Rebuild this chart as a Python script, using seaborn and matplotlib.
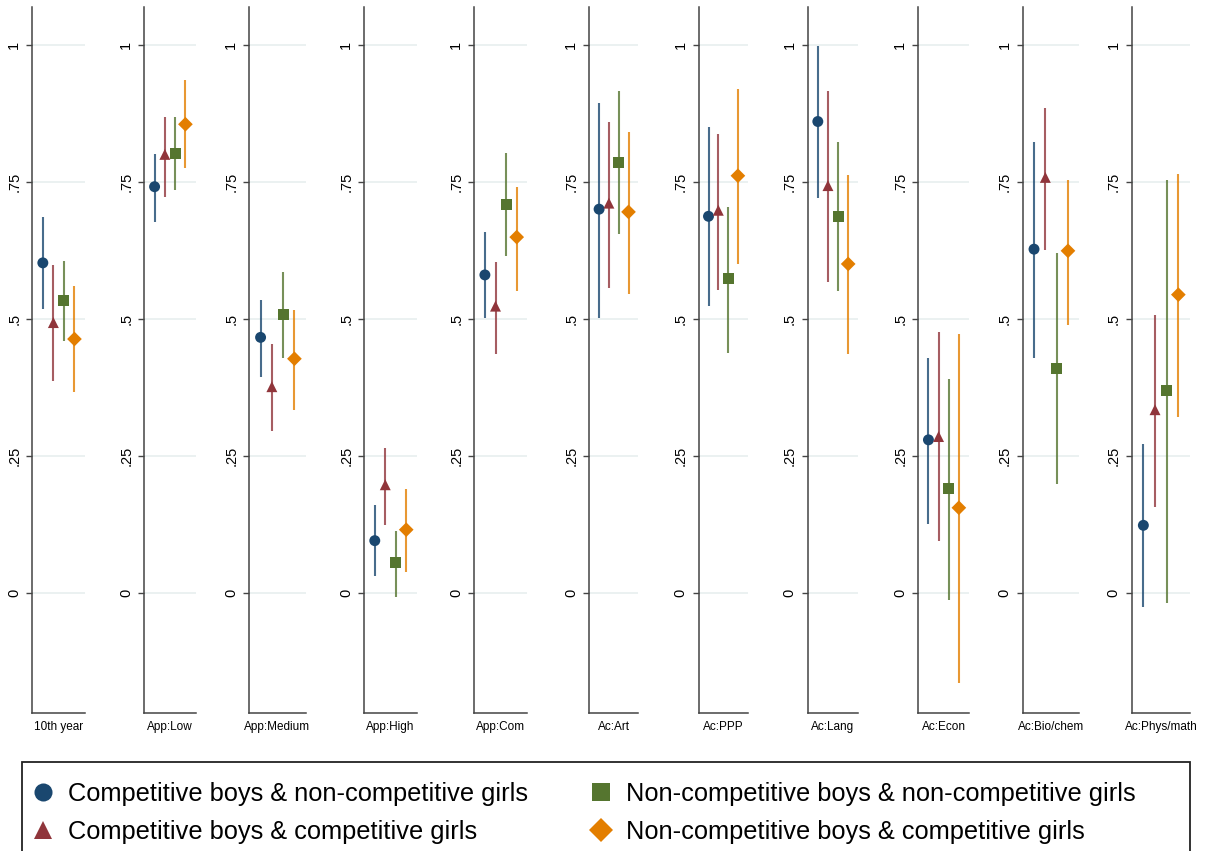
import numpy as np
import pandas as pd
import matplotlib
matplotlib.use("Agg")
import matplotlib.pyplot as plt
from matplotlib.lines import Line2D
from matplotlib.patches import Rectangle
import seaborn as sns

# ---------------- data ----------------
categories = ["10th year", "App:Low", "App:Medium", "App:High", "App:Com",
              "Ac:Art", "Ac:PPP", "Ac:Lang", "Ac:Econ", "Ac:Bio/chem", "Ac:Phys/math"]

groups = ["Competitive boys & non-competitive girls",
          "Competitive boys & competitive girls",
          "Non-competitive boys & non-competitive girls",
          "Non-competitive boys & competitive girls"]

cb_ncg_est = [0.602, 0.741, 0.466, 0.095, 0.580, 0.700, 0.687, 0.860, 0.279, 0.627, 0.123]
cb_ncg_lo  = [0.518, 0.676, 0.393, 0.030, 0.501, 0.501, 0.523, 0.720, 0.126, 0.428, -0.026]
cb_ncg_hi  = [0.686, 0.800, 0.534, 0.160, 0.658, 0.893, 0.850, 0.997, 0.428, 0.822, 0.271]

cb_cg_est = [0.493, 0.800, 0.376, 0.197, 0.523, 0.711, 0.698, 0.743, 0.285, 0.758, 0.334]
cb_cg_lo  = [0.386, 0.723, 0.296, 0.123, 0.436, 0.556, 0.553, 0.567, 0.095, 0.626, 0.156]
cb_cg_hi  = [0.598, 0.869, 0.454, 0.264, 0.603, 0.860, 0.837, 0.916, 0.475, 0.885, 0.507]

ncb_ncg_est = [0.534, 0.802, 0.507, 0.055, 0.709, 0.785, 0.573, 0.687, 0.191, 0.410, 0.369]
ncb_ncg_lo  = [0.459, 0.735, 0.428, -0.007, 0.615, 0.654, 0.437, 0.550, -0.013, 0.199, -0.019]
ncb_ncg_hi  = [0.605, 0.868, 0.585, 0.113, 0.802, 0.915, 0.704, 0.823, 0.390, 0.620, 0.754]

ncb_cg_est = [0.463, 0.855, 0.427, 0.115, 0.649, 0.695, 0.761, 0.600, 0.155, 0.624, 0.544]
ncb_cg_lo  = [0.367, 0.775, 0.334, 0.037, 0.551, 0.545, 0.600, 0.435, -0.165, 0.489, 0.320]
ncb_cg_hi  = [0.559, 0.936, 0.516, 0.189, 0.740, 0.840, 0.919, 0.762, 0.472, 0.754, 0.764]

y_ticks = [0, 0.25, 0.5, 0.75, 1]
y_tick_labels = ["0", ".25", ".5", ".75", "1"]

# ---------------- styles ----------------
colors = ["#1a476f", "#90353b", "#55752f", "#e37e00"]
markers = ["o", "^", "s", "D"]
msizes = [62, 62, 62, 56]

rows = []
for gi, (g, est, lo, hi) in enumerate(zip(
        groups,
        [cb_ncg_est, cb_cg_est, ncb_ncg_est, ncb_cg_est],
        [cb_ncg_lo, cb_cg_lo, ncb_ncg_lo, ncb_cg_lo],
        [cb_ncg_hi, cb_cg_hi, ncb_ncg_hi, ncb_cg_hi])):
    for ci, c in enumerate(categories):
        rows.append(dict(category=c, group=g, pos=gi + 1, est=est[ci], lo=lo[ci], hi=hi[ci]))
df = pd.DataFrame(rows)

sns.set_theme(style="white")
plt.rcParams["font.family"] = ["Liberation Sans", "DejaVu Sans"]
plt.rcParams["text.color"] = "black"
plt.rcParams["axes.labelcolor"] = "black"
plt.rcParams["ytick.labelcolor"] = "black"

W, H = 1217, 851
fig = plt.figure(figsize=(W / 100, H / 100), dpi=100)

# panel layout in pixels (left, width)
panel_px = [(32.3, 52.7), (144.3, 51.4), (249.3, 56.4), (364.3, 52.4), (474.3, 53.0),
            (589.3, 49.0), (698.7, 49.0), (807.7, 50.6), (918.3, 50.7), (1022.7, 56.6),
            (1131.7, 58.3)]
top_px, bot_px = 7.3, 712.7
y_lo = -(bot_px - 592.7) / 547.9
y_hi = (592.7 - top_px) / 547.9

palette = dict(zip(groups, colors))
mk = dict(zip(groups, markers))
sz = dict(zip(groups, msizes))

for ci, cat in enumerate(categories):
    l, w = panel_px[ci]
    ax = fig.add_axes([l / W, 1 - bot_px / H, w / W, (bot_px - top_px) / H])
    d = df[df["category"] == cat]
    for y in y_ticks:
        ax.axhline(y, color="#e6eeee", lw=1.1, zorder=0)
    ax.vlines(d["pos"], d["lo"], d["hi"], colors=[palette[g] for g in d["group"]],
              linewidth=1.5, alpha=0.8, zorder=2)
    sns.scatterplot(data=d, x="pos", y="est", hue="group", style="group", size="group",
                    palette=palette, markers=mk, sizes=sz, linewidth=0,
                    legend=False, ax=ax, zorder=3)
    ax.set_xlim(0, 5)
    ax.set_ylim(y_lo, y_hi)
    ax.set_xticks([])
    ax.set_yticks(y_ticks)
    ax.set_yticklabels(y_tick_labels, rotation=90, va="center", ha="right",
                       fontsize=10.5, color="black")
    ax.tick_params(axis="y", length=4.5, width=1, color="#444444", pad=3.5, left=True)
    ax.set_xlabel(cat, fontsize=8.5, labelpad=6, color="black")
    ax.set_ylabel("")
    for s in ["top", "right"]:
        ax.spines[s].set_visible(False)
    for s in ["left", "bottom"]:
        ax.spines[s].set_color("#444444")
        ax.spines[s].set_linewidth(1.1)
    ax.patch.set_alpha(0)

# legend
handles = [Line2D([], [], linestyle="none", marker=m, color=c, markersize=ms, markeredgewidth=0)
           for m, c, ms in zip(markers, colors, [13, 13, 13, 12])]
leg = fig.legend(handles, groups, ncol=2, loc="upper left",
                 bbox_to_anchor=(10 / W, 1 - 762 / H), frameon=False,
                 fontsize=18.3, handlelength=1.0, handletextpad=0.5,
                 columnspacing=2.35, labelspacing=0.55, borderpad=0.3)
for t in leg.get_texts():
    t.set_color("black")
fig.patches.append(Rectangle((22 / W, -0.05), (1190 - 22) / W, (851 - 762) / H + 0.05,
                             transform=fig.transFigure, fill=False, edgecolor="#222222",
                             linewidth=1.3))

fig.savefig("out.png", dpi=100, facecolor="white")
